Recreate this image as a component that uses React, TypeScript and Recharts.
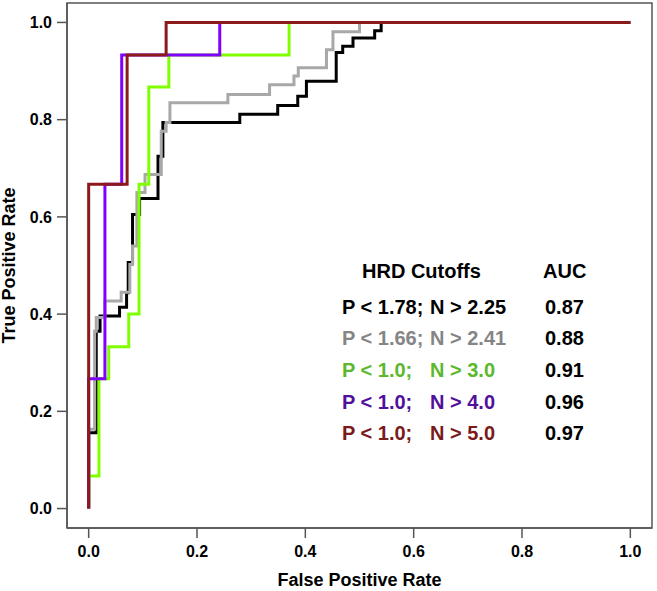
import { LineChart, Line, XAxis, YAxis, ReferenceArea } from "recharts";

const FONT = '"Liberation Sans", Arial, sans-serif';
const DOMAIN: [number, number] = [-0.04, 1.04];
const TICKS = [0, 0.2, 0.4, 0.6, 0.8, 1];

// ROC points (false positive rate, true positive rate); drawn as step-after curves
const fpr178 = [0, 0, 0.014, 0.021, 0.057, 0.07, 0.073, 0.081, 0.094, 0.128, 0.137, 0.279, 0.349, 0.386, 0.402, 0.457, 0.469, 0.488, 0.528, 0.54, 1];
const tpr178 = [0, 0.156, 0.365, 0.396, 0.414, 0.444, 0.506, 0.605, 0.638, 0.725, 0.794, 0.811, 0.829, 0.848, 0.879, 0.938, 0.951, 0.968, 0.983, 1, 1];

const fpr166 = [0, 0, 0.011, 0.014, 0.03, 0.06, 0.076, 0.081, 0.089, 0.104, 0.134, 0.143, 0.15, 0.257, 0.334, 0.379, 0.387, 0.439, 0.451, 0.5, 1];
const tpr166 = [0, 0.163, 0.365, 0.393, 0.427, 0.445, 0.502, 0.54, 0.65, 0.687, 0.776, 0.794, 0.835, 0.852, 0.872, 0.89, 0.907, 0.944, 0.981, 1, 1];

const fprN3 = [0, 0, 0.019, 0.037, 0.074, 0.093, 0.111, 0.148, 0.37, 1];
const tprN3 = [0, 0.067, 0.267, 0.333, 0.4, 0.667, 0.867, 0.933, 1, 1];

const fprN4 = [0, 0, 0.03, 0.061, 0.242, 1];
const tprN4 = [0, 0.267, 0.667, 0.933, 1, 1];

const fprN5 = [0, 0, 0.071, 0.143, 1];
const tprN5 = [0, 0.667, 0.933, 1, 1];

const CUTOFF_P = ["P < 1.78;", "P < 1.66;", "P < 1.0;", "P < 1.0;", "P < 1.0;"];
const CUTOFF_N = ["N > 2.25", "N > 2.41", "N > 3.0", "N > 4.0", "N > 5.0"];
const AUC = ["0.87", "0.88", "0.91", "0.96", "0.97"];

const LINE_COLORS = ["#000000", "#a8a8a8", "#80ff00", "#8000ff", "#8b1a1a"];
const TEXT_COLORS = ["#000000", "#858585", "#5cb82c", "#520f9c", "#7a1a1a"];

const toPoints = (fpr: number[], tpr: number[]) => fpr.map((f, i) => ({ fpr: f, tpr: tpr[i] }));

const series = [
  toPoints(fpr178, tpr178),
  toPoints(fpr166, tpr166),
  toPoints(fprN3, tprN3),
  toPoints(fprN4, tprN4),
  toPoints(fprN5, tprN5),
];

const ROW_Y = [314, 345, 377, 409, 440];

export default function App() {
  const tickStyle = { fontSize: 16, fontWeight: "bold", fill: "#000", fontFamily: FONT };
  const lineStyle = { stroke: "#555", strokeWidth: 1.5 };

  return (
    <div style={{ position: "absolute", left: 0, top: 0, width: 657, height: 591, background: "#fff" }}>
      <LineChart width={657} height={591} margin={{ top: 3, right: 5, bottom: 0, left: 0 }}>
        <ReferenceArea x1={DOMAIN[0]} x2={DOMAIN[1]} y1={DOMAIN[0]} y2={DOMAIN[1]} fill="none" stroke="#555" strokeWidth={1.5} fillOpacity={0} />
        <XAxis
          dataKey="fpr"
          type="number"
          domain={DOMAIN}
          allowDataOverflow
          ticks={TICKS}
          tickFormatter={(v: number) => v.toFixed(1)}
          tick={tickStyle}
          tickSize={10}
          tickMargin={8}
          height={63}
          axisLine={lineStyle}
          tickLine={lineStyle}
        />
        <YAxis
          type="number"
          domain={DOMAIN}
          allowDataOverflow
          ticks={TICKS}
          tickFormatter={(v: number) => v.toFixed(1)}
          tick={tickStyle}
          tickSize={10}
          tickMargin={5}
          width={67}
          axisLine={lineStyle}
          tickLine={lineStyle}
        />
        {series.map((pts, i) => (
          <Line
            key={i}
            data={pts}
            dataKey="tpr"
            type="stepAfter"
            stroke={LINE_COLORS[i]}
            strokeWidth={3}
            dot={false}
            activeDot={false}
            isAnimationActive={false}
          />
        ))}
      </LineChart>
      <svg width={657} height={591} style={{ position: "absolute", left: 0, top: 0, pointerEvents: "none" }}>
        <g fontFamily={FONT} fontWeight="bold">
          <text x={359.5} y={586} fontSize={18} textAnchor="middle" fill="#000">False Positive Rate</text>
          <text x={15} y={265.5} fontSize={18} textAnchor="middle" fill="#000" transform="rotate(-90 15 265.5)">True Positive Rate</text>
          <text x={362} y={278} fontSize={20} fill="#000">HRD Cutoffs</text>
          <text x={543} y={278} fontSize={20} fill="#000">AUC</text>
          {ROW_Y.map((y, i) => (
            <g key={i} fontSize={20}>
              <text x={342} y={y} fill={TEXT_COLORS[i]}>{CUTOFF_P[i]}</text>
              <text x={430} y={y} fill={TEXT_COLORS[i]}>{CUTOFF_N[i]}</text>
              <text x={545} y={y} fill="#000">{AUC[i]}</text>
            </g>
          ))}
        </g>
      </svg>
    </div>
  );
}
